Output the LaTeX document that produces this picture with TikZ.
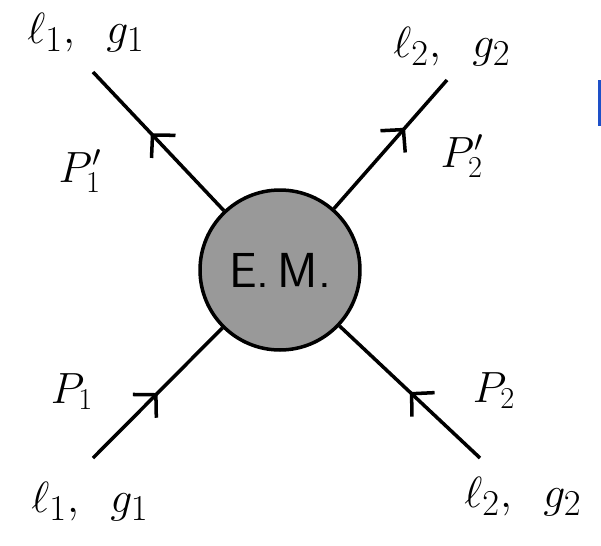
\documentclass[tikz,border=0pt]{standalone}
\usepackage{amsmath}
\usepackage{tikz}
\usetikzlibrary{arrows.meta, decorations.markings}

\begin{document}
\begin{tikzpicture}[
    x=0.02cm, y=-0.02cm,
    line width=2pt,
    every node/.style={inner sep=0pt},
    blob/.style={
        circle, draw, fill=black!40,
        minimum size=3.2cm,
        font=\fontsize{28}{30}\selectfont\sffamily
    },
    leg/.style={font=\fontsize{29}{32}\selectfont, anchor=base},
    mom/.style={font=\fontsize{23}{26}\selectfont, anchor=base},
    line/.style={
        postaction={decorate},
        decoration={markings,
            mark=at position #1 with {\arrow{Straight Barb[length=0.32cm, width=0.66cm]}}}
    },
    line/.default=0.5
]
\useasboundingbox (0,0) rectangle (601,545);

% --- Blob ---
\node[blob] (EM) at (280,270) {E.\,M.};

% --- Outer ends ---
\coordinate (in1) at (93,458);
\coordinate (in2) at (480,458);
\coordinate (out1) at (93,72);
\coordinate (out2) at (447,80);

% --- Lines ---
\draw[line=0.5] (in1) -- (EM);
\draw[line=0.5] (in2) -- (EM);
\draw[line=0.56] (EM) -- (out1);
\draw[line=0.63] (EM) -- (out2);

% --- Labels ---
\node[leg] (L1a) at (86,43) {$\ell_1,\;\; g_1$};
\node[leg] (L2a) at (452,57) {$\ell_2,\;\; g_2$};
\node[leg] (L1b) at (90,512) {$\ell_1,\;\; g_1$};
\node[leg] (L2b) at (523,507) {$\ell_2,\;\; g_2$};

\node[mom] (P1o) at (80,182) {$P'_1$};
\node[mom] (P2o) at (462,167) {$P'_2$};
\node[mom] (P1i) at (72,403) {$P_1$};
\node[mom] (P2i) at (494,402) {$P_2$};

% stray pen mark on the right
\draw[draw={rgb,255:red,30;green,80;blue,200}, line width=0.06cm] (599.5,80) -- (599.5,126);

\end{tikzpicture}
\end{document}
